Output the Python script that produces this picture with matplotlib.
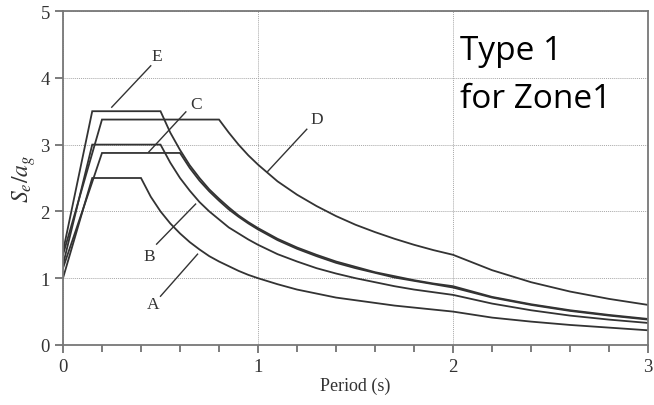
import numpy as np
import matplotlib.pyplot as plt

# period grid (s) shared by all five ground types
period = [0.0, 0.15, 0.2, 0.25, 0.3, 0.35, 0.4, 0.45, 0.5, 0.55, 0.6, 0.65, 0.7,
          0.75, 0.8, 0.85, 0.9, 0.95, 1.0, 1.1, 1.2, 1.3, 1.4, 1.5, 1.6, 1.7,
          1.8, 1.9, 2.0, 2.2, 2.4, 2.6, 2.8, 3.0]

# Se/ag
se_A = [1.00, 2.50, 2.50, 2.50, 2.50, 2.50, 2.50, 2.22, 2.00, 1.82, 1.67, 1.54, 1.43,
        1.33, 1.25, 1.18, 1.11, 1.05, 1.00, 0.91, 0.83, 0.77, 0.71, 0.67, 0.63, 0.59,
        0.56, 0.53, 0.50, 0.41, 0.35, 0.30, 0.26, 0.22]
se_B = [1.20, 3.00, 3.00, 3.00, 3.00, 3.00, 3.00, 3.00, 3.00, 2.73, 2.50, 2.31, 2.14,
        2.00, 1.88, 1.76, 1.67, 1.58, 1.50, 1.36, 1.25, 1.15, 1.07, 1.00, 0.94, 0.88,
        0.83, 0.79, 0.75, 0.62, 0.52, 0.44, 0.38, 0.33]
se_C = [1.15, 2.44, 2.875, 2.875, 2.875, 2.875, 2.875, 2.875, 2.875, 2.875, 2.875, 2.65, 2.46,
        2.30, 2.16, 2.03, 1.92, 1.82, 1.73, 1.57, 1.44, 1.33, 1.23, 1.15, 1.08, 1.01,
        0.96, 0.91, 0.86, 0.71, 0.60, 0.51, 0.44, 0.38]
se_D = [1.35, 2.87, 3.375, 3.375, 3.375, 3.375, 3.375, 3.375, 3.375, 3.375, 3.375, 3.375, 3.375,
        3.375, 3.375, 3.18, 3.00, 2.84, 2.70, 2.45, 2.25, 2.08, 1.93, 1.80, 1.69, 1.59,
        1.50, 1.42, 1.35, 1.12, 0.94, 0.80, 0.69, 0.60]
se_E = [1.40, 3.50, 3.50, 3.50, 3.50, 3.50, 3.50, 3.50, 3.50, 3.18, 2.92, 2.69, 2.50,
        2.33, 2.19, 2.06, 1.94, 1.84, 1.75, 1.59, 1.46, 1.35, 1.25, 1.17, 1.09, 1.03,
        0.97, 0.92, 0.88, 0.72, 0.61, 0.52, 0.45, 0.39]

labels = ["A", "B", "C", "D", "E"]
# label text position and leader line (start, end) in data coords
label_xy = [(0.46, 0.61), (0.44, 1.33), (0.68, 3.61), (1.30, 3.38), (0.48, 4.33)]
leader = [((0.50, 0.73), (0.69, 1.36)),
          ((0.48, 1.51), (0.68, 2.11)),
          ((0.44, 2.89), (0.63, 3.49)),
          ((1.05, 2.60), (1.25, 3.23)),
          ((0.25, 3.56), (0.45, 4.18))]

serif = "Liberation Serif"
ink = "#333333"

fig = plt.figure(figsize=(6.54, 4.06), dpi=100)
ax = fig.add_axes([0.0963, 0.1478, 0.8947, 0.8226])

for s in [se_A, se_B, se_C, se_D, se_E]:
    ax.plot(period, s, color=ink, lw=1.3, solid_joinstyle="miter")

for lab, (tx, ty), (p0, p1) in zip(labels, label_xy, leader):
    ax.plot([p0[0], p1[0]], [p0[1], p1[1]], color=ink, lw=1.0)
    ax.text(tx, ty, lab, family=serif, fontsize=12.5, color=ink,
            ha="center", va="center")

ax.set_xlim(0, 3)
ax.set_ylim(0, 5)
ax.set_xticks([0, 1, 2, 3])
ax.set_xticks(np.arange(0, 3.01, 0.2), minor=True)
ax.set_yticks([0, 1, 2, 3, 4, 5])
ax.grid(True, which="major", color="#a8a8a8", ls=(0, (1, 1)), lw=0.7)
ax.tick_params(which="both", direction="out", color="#666666", width=1.2)
ax.tick_params(which="major", length=6, labelsize=13.5, labelcolor=ink)
ax.tick_params(which="minor", length=5)
for lab in ax.get_xticklabels() + ax.get_yticklabels():
    lab.set_family(serif)
for sp in ax.spines.values():
    sp.set_color("#777777")
    sp.set_linewidth(1.3)

ax.set_xlabel("Period (s)", family=serif, fontsize=13, color=ink, labelpad=1)
ax.set_ylabel(r"$S_e/a_g$", fontsize=17, color=ink, labelpad=2,
              math_fontfamily="stix")

ax.text(2.036, 4.28, "Type 1", family="Open Sans", fontsize=24,
        color="black", ha="left", va="baseline")
ax.text(2.036, 3.56, "for Zone1", family="Open Sans", fontsize=24,
        color="black", ha="left", va="baseline")

fig.savefig("out.png", dpi=100)
